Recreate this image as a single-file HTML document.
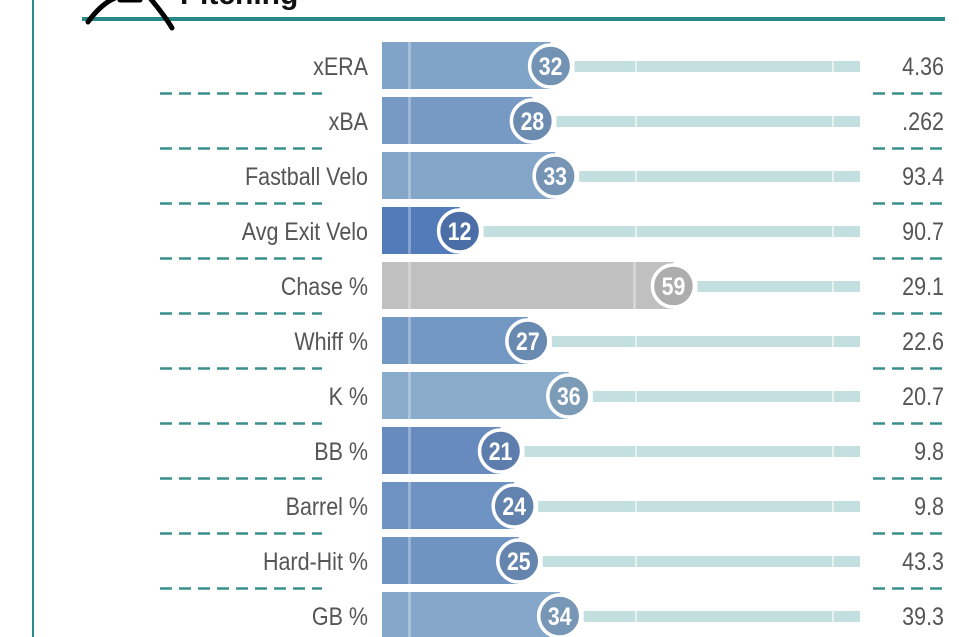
<!DOCTYPE html>
<html><head><meta charset="utf-8"><style>
html,body{margin:0;padding:0;background:#fff;width:959px;height:637px;overflow:hidden}
svg{display:block}
text{font-family:"Liberation Sans",sans-serif}
</style></head><body>
<svg id="chart" width="959" height="637" viewBox="0 0 959 637">
<rect x="32" y="0" width="2" height="637" fill="#2a8a88"/>
<rect x="82" y="17" width="863" height="4" fill="#2a8a88"/>
<path d="M88,22 C95,12 105,2 115,-2 M150,-2 C158,8 165,16 172,28 M120,0 L140,0" stroke="#000" stroke-width="5" fill="none" stroke-linecap="round"/>
<text x="180" y="4" font-size="30" font-weight="bold" fill="#111">Pitching</text>
<g id="rows"></g>
</svg>
<script>
const metrics = ["xERA","xBA","Fastball Velo","Avg Exit Velo","Chase %","Whiff %","K %","BB %","Barrel %","Hard-Hit %","GB %"];
const percentiles = [32,28,33,12,59,27,36,21,24,25,34];
const statValues = ["4.36",".262","93.4","90.7","29.1","22.6","20.7","9.8","9.8","43.3","39.3"];

const NS="http://www.w3.org/2000/svg";
const g=document.getElementById('rows');
function x(p){return 405+4.55*p;}
function rowY(i){return 66+55*i;}
function lerp(a,b,t){return a.map((v,k)=>Math.round(v+(b[k]-v)*t));}
function color(p){
  if(p<=45) return lerp([62,102,178],[160,192,210],Math.pow(p/45,1.15));
  if(p<=65) return [192,192,192];
  return lerp([192,192,192],[200,40,40],(p-65)/35);
}
function rgb(c){return `rgb(${c[0]},${c[1]},${c[2]})`;}
function mk(tag,attrs){const e=document.createElementNS(NS,tag);for(const k in attrs)e.setAttribute(k,attrs[k]);g.appendChild(e);return e;}
metrics.forEach((m,i)=>{
  const cy=rowY(i), p=percentiles[i], cx=x(p), c=color(p);
  const barC=rgb(c), circC=rgb(lerp(c,[0,0,0],0.1));
  let e=mk('text',{x:0,y:0,'font-size':25,'text-anchor':'end',fill:'#555',transform:`translate(368,${cy+9}) scale(0.86,1)`});
  e.textContent=m;
  
  
  e=mk('rect',{x:cx+24,y:cy-5,width:Math.max(0,860-cx-24),height:11,fill:'#c3dfdf'});
  
  
  [635,832].forEach(sx=>{ if(sx>cx+24){e=mk('rect',{x:sx,y:cy-5,width:2,height:11,fill:'#e6f2f2'});
  
  }});
  e=mk('rect',{x:382,y:cy-24,width:cx-382,height:47,fill:barC});
  
  
  e=mk('rect',{x:408,y:cy-24,width:3,height:47,fill:'rgba(255,255,255,0.3)'});
  
  
  if(cx>635){e=mk('rect',{x:633,y:cy-24,width:3,height:47,fill:'rgba(255,255,255,0.35)'});
  
  }
  e=mk('circle',{cx:cx,cy:cy,r:21,fill:circC,stroke:'#fff','stroke-width':3.5});
  
  
  e=mk('text',{x:0,y:0,'font-size':25,'font-weight':'bold','text-anchor':'middle',fill:'#fff',transform:`translate(${cx},${cy+9}) scale(0.85,1)`});
  e.textContent=p;
  
  
  e=mk('text',{x:0,y:0,'font-size':25,'text-anchor':'end',fill:'#555',transform:`translate(944,${cy+9}) scale(0.86,1)`});
  e.textContent=statValues[i];
  
  
  if(i<metrics.length-1){
    const dy=cy+27.5;
    e=mk('line',{x1:160,y1:dy,x2:322,y2:dy,stroke:'#3a8f8c','stroke-width':2.5,'stroke-dasharray':'12 7'});
    
    
    e=mk('line',{x1:873,y1:dy,x2:945,y2:dy,stroke:'#3a8f8c','stroke-width':2.5,'stroke-dasharray':'12 7'});
    
    
  }
});
</script>
</body></html>
